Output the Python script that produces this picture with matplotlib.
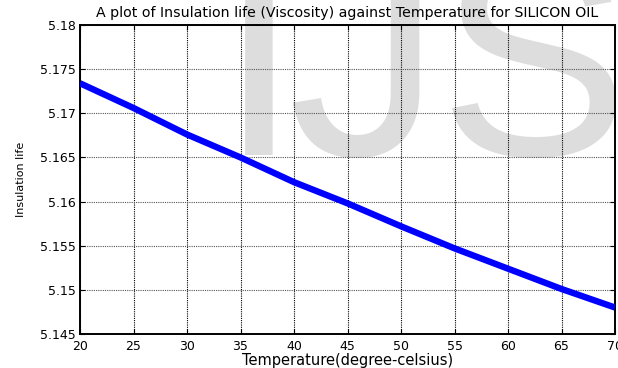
import matplotlib
matplotlib.use("Agg")
import matplotlib.pyplot as plt

# ---- data ----
temperature = [20, 25, 30, 35, 40, 45, 50, 55, 60, 65, 70]
insulation_life = [5.1734, 5.1706, 5.1676, 5.1650, 5.1622, 5.1598,
                   5.1572, 5.1547, 5.1524, 5.1501, 5.1480]
x_ticks = [20, 25, 30, 35, 40, 45, 50, 55, 60, 65, 70]
x_tick_labels = ["20", "25", "30", "35", "40", "45", "50", "55", "60", "65", "70"]
y_ticks = [5.145, 5.15, 5.155, 5.16, 5.165, 5.17, 5.175, 5.18]
y_tick_labels = ["5.145", "5.15", "5.155", "5.16", "5.165", "5.17", "5.175", "5.18"]
title = "A plot of Insulation life (Viscosity) against Temperature for SILICON OIL"
x_label = "Temperature(degree-celsius)"
y_label = "Insulation life"
watermark = ["I", "J", "S"]

plt.rcParams["font.family"] = ["DejaVu Sans"]

W, H = 618, 368
fig = plt.figure(figsize=(W / 100, H / 100), dpi=100)

# watermark behind everything
wm_x = [259, 364, 533]
wm_size = [212, 222, 205]
for ch, xc, fs in zip(watermark, wm_x, wm_size):
    fig.text(xc / W, 1 - 155 / H, ch, fontsize=fs, color="#dddddd",
             family="Liberation Sans", ha="center", va="baseline", zorder=-5)

left, right, top, bottom = 80, 615, 25, 334
ax = fig.add_axes([left / W, 1 - bottom / H, (right - left) / W, (bottom - top) / H])
ax.set_facecolor("none")

ax.plot(temperature, insulation_life, color="#0000ff", linewidth=4.6, zorder=3,
        solid_capstyle="butt")

ax.set_xlim(20, 70)
ax.set_ylim(5.145, 5.18)
ax.set_xticks(x_ticks)
ax.set_xticklabels(x_tick_labels)
ax.set_yticks(y_ticks)
ax.set_yticklabels(y_tick_labels)

ax.xaxis.grid(True, color="black", linestyle=(0, (1, 1)), linewidth=0.8, zorder=1)
ax.yaxis.grid(True, color="#555555", linestyle=(0, (1, 1)), linewidth=0.8, zorder=1)
ax.set_axisbelow(True)

for s in ax.spines.values():
    s.set_linewidth(1.4)
    s.set_color("black")

ax.tick_params(direction="in", length=3.5, width=0.8, top=True, right=True,
               labelsize=9, colors="black")
ax.tick_params(axis="x", pad=4)
ax.tick_params(axis="y", pad=3)

ax.set_title(title, fontsize=10.2, pad=6)
ax.set_xlabel(x_label, fontsize=10.5, labelpad=0)
ax.set_ylabel(y_label, fontsize=8, labelpad=10)

fig.savefig("out.png", dpi=100)
